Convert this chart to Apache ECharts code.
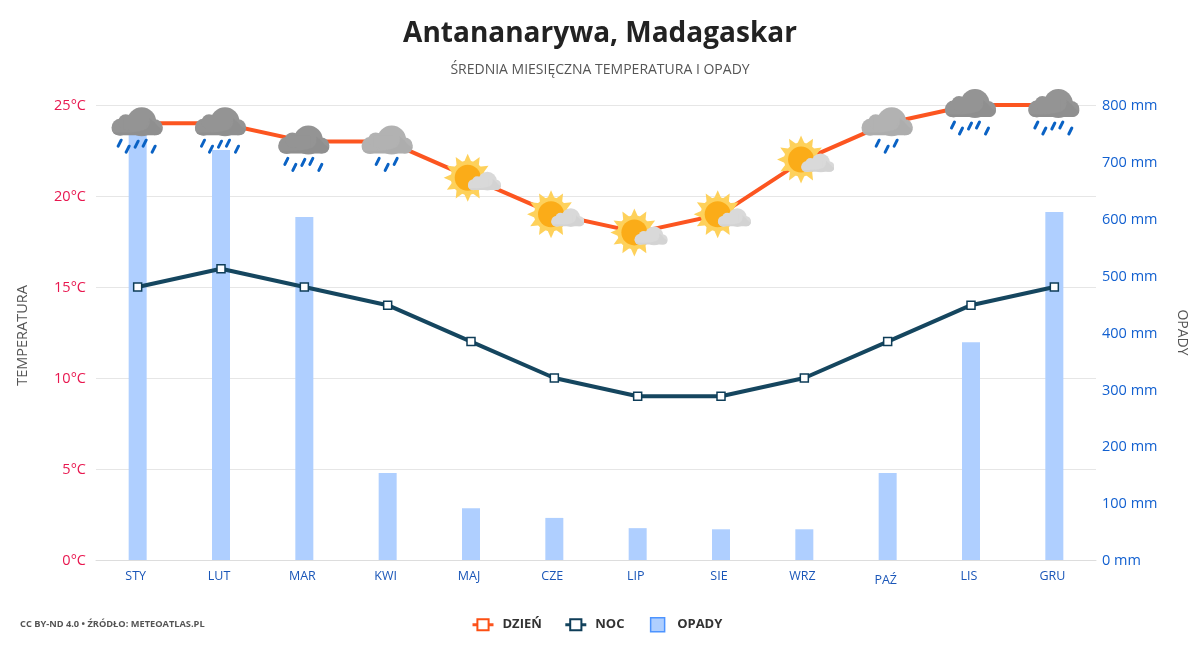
<!DOCTYPE html>
<html>
<head>
<meta charset="utf-8">
<title>Antananarywa, Madagaskar</title>
<style>
  html, body { margin: 0; padding: 0; background: #fff; }
  #main { width: 1200px; height: 650px; }
</style>
<script src="https://cdn.jsdelivr.net/npm/echarts@6/dist/echarts.min.js"></script>
</head>
<body>
<div id="main"></div>
<script>
const months = ["STY", "LUT", "MAR", "KWI", "MAJ", "CZE", "LIP", "SIE", "WRZ", "PAŹ", "LIS", "GRU"];
const tempDay = [24, 24, 23, 23, 21, 19, 18, 19, 22, 24, 25, 25];
const tempNight = [15, 16, 15, 14, 12, 10, 9, 9, 10, 12, 14, 15];
const rain = [760, 721, 603, 153, 91, 74, 56, 54, 54, 153, 383, 612];
const weather = ["rain", "rain", "rain", "shower", "sun", "sun", "sun", "sun", "sun", "shower", "rain", "rain"];

const fontName = "'Open Sans', sans-serif";

// ikony pogody rysowane jako male svg
function cloud(fill, shade) {
  return '<g fill="' + fill + '">' +
    '<rect x="4" y="17" width="51" height="13" rx="6.500"/>' +
    '<circle cx="12.500" cy="22" r="8.500"/><circle cx="18" cy="16.500" r="7.500"/>' +
    '<circle cx="34" cy="16.500" r="14.500"/><circle cx="47" cy="22" r="8"/>' +
    '<rect x="16" y="12" width="20" height="12"/></g>' +
    '<path fill="' + shade + '" d="M10 30h39c3 0 6-3 6-6-3-1-6-4-8-7l-5-4c1 5-1 9-4 11-7 3-19 4-33 3 1 2 3 3 5 3z" opacity=".1"/>';
}
function drops(list) {
  return list.map(p => '<path d="M' + (p[0] + 1.500) + ' ' + (p[1] - 3) + 'L' + (p[0] - 1.500) + ' ' + (p[1] + 3) +
    '" stroke="#0a62c4" stroke-width="3" stroke-linecap="round"/>').join("");
}
function sun() {
  let rays = "";
  for (let i = 0; i < 12; i++) {
    rays += '<path fill="#fed15b" d="M26.700 6l4 9h-8z" transform="rotate(' + (i * 30) + ' 26.700 30)"/>';
  }
  return rays + '<circle cx="26.700" cy="30" r="17" fill="#fed15b"/><circle cx="26.700" cy="30" r="13" fill="#fbac18"/>' +
    '<g transform="translate(24.400 22.700) scale(.647)">' + cloud("#d9d9d9", "#a8a8a8") + '</g>';
}
function iconUrl(kind) {
  let svg;
  if (kind === "sun") {
    svg = sun();
  } else if (kind === "rain") {
    svg = cloud("#949494", "#6f6f6f") + drops([[12, 38], [20, 44], [29, 39], [37, 38], [46, 44]]);
  } else {
    svg = cloud("#b2b2b2", "#8c8c8c") + drops([[20, 38], [29, 44], [38, 38]]);
  }
  return "image://data:image/svg+xml;charset=utf-8," + encodeURIComponent(
    '<svg xmlns="http://www.w3.org/2000/svg" width="60" height="60" viewBox="0 0 60 60">' + svg + '</svg>');
}

const myChart = echarts.init(document.getElementById("main"));
myChart.setOption({
  animation: false,
  backgroundColor: "#fff",
  textStyle: { fontFamily: fontName },
  title: {
    text: "Antananarywa, Madagaskar",
    subtext: "ŚREDNIA MIESIĘCZNA TEMPERATURA I OPADY",
    left: "center",
    top: 15,
    itemGap: 15,
    textStyle: { fontFamily: fontName, fontSize: 28, fontWeight: "bold", color: "#222" },
    subtextStyle: { fontFamily: fontName, fontSize: 14, color: "#555" }
  },
  grid: { left: 96, right: 104, top: 105, bottom: 90 },
  legend: {
    data: [
      { name: "DZIEŃ" },
      { name: "NOC" },
      { name: "OPADY", icon: "path://M0 0h10v10H0z", itemStyle: { color: "#afcfff", borderColor: "#4d94ff", borderWidth: 1.500 } }
    ],
    left: 471,
    top: 617,
    padding: 0,
    itemWidth: 21,
    itemHeight: 14,
    itemGap: 22,
    lineStyle: { width: 3 },
    formatter: name => (name === "NOC" ? name + "\u00a0" : name),
    textStyle: { fontFamily: fontName, fontSize: 13, fontWeight: "bold", color: "#333", letterSpacing: 0.5, padding: [0, 0, 0, 4] }
  },
  xAxis: {
    type: "category",
    data: months,
    axisLine: { lineStyle: { color: "#ddd", width: 1 } },
    axisTick: { length: 10, lineStyle: { color: "#ddd" } },
    axisLabel: {
      color: "#1a56b8",
      fontSize: 12.500,
      margin: 10,
      padding: [0, 4, 0, 0],
      formatter: v => (v === "PAŹ" ? "{low|" + v + "}" : v),
      rich: { low: { color: "#1a56b8", fontSize: 12.500, padding: [4, 0, 0, 0] } }
    }
  },
  yAxis: [
    {
      type: "value",
      min: 0,
      max: 25,
      interval: 5,
      name: "TEMPERATURA",
      nameLocation: "middle",
      nameGap: 66,
      nameTextStyle: { color: "#555", fontSize: 14.500, padding: [0, 6, 0, 0] },
      axisLabel: {
        margin: 10,
        formatter: v => "{t|" + v + "°C}",
        rich: { t: { color: "#e8174f", fontSize: 14.500, padding: [2, 0, 0, 0] } }
      },
      axisLine: { show: false },
      axisTick: { show: false },
      splitLine: { lineStyle: { color: "#e6e6e6" } }
    },
    {
      type: "value",
      min: 0,
      max: 800,
      interval: 100,
      name: "OPADY",
      nameLocation: "middle",
      nameGap: 79,
      nameRotate: -90,
      nameTextStyle: { color: "#555", fontSize: 14 },
      axisLabel: {
        margin: 6,
        formatter: v => "{t|" + v + " mm}",
        rich: { t: { color: "#1260d0", fontSize: 14.500, padding: [2, 0, 0, 0] } }
      },
      axisLine: { show: false },
      axisTick: { show: false },
      splitLine: { show: false }
    }
  ],
  series: [
    {
      name: "OPADY",
      type: "bar",
      yAxisIndex: 1,
      data: rain,
      barWidth: 18,
      z: 1,
      itemStyle: { color: "#afcfff" }
    },
    {
      name: "DZIEŃ",
      type: "line",
      data: tempDay,
      symbol: "rect",
      symbolSize: 8,
      z: 3,
      lineStyle: { color: "#fc5520", width: 4 },
      itemStyle: { color: "#fff", borderColor: "#fc4f13", borderWidth: 1.500 }
    },
    {
      name: "NOC",
      type: "line",
      data: tempNight,
      symbol: "rect",
      symbolSize: 8,
      z: 3,
      lineStyle: { color: "#15465f", width: 4 },
      itemStyle: { color: "#fff", borderColor: "#0e3d58", borderWidth: 1.500 }
    },
    {
      name: "ikony",
      type: "scatter",
      silent: true,
      z: 5,
      itemStyle: { opacity: 1 },
      data: tempDay.map((v, i) => ({
        value: v,
        symbol: iconUrl(weather[i]),
        symbolSize: 60,
        symbolOffset: weather[i] === "sun" ? [0, 0] : [0, 12]
      }))
    }
  ],
  graphic: [
    {
      type: "text",
      left: 20,
      top: 620,
      style: {
        text: "CC BY-ND 4.0 • ŹRÓDŁO: METEOATLAS.PL",
        fontFamily: fontName,
        fontSize: 9.250,
        fontWeight: "bold",
        fill: "#555"
      }
    }
  ]
});
</script>
</body>
</html>
